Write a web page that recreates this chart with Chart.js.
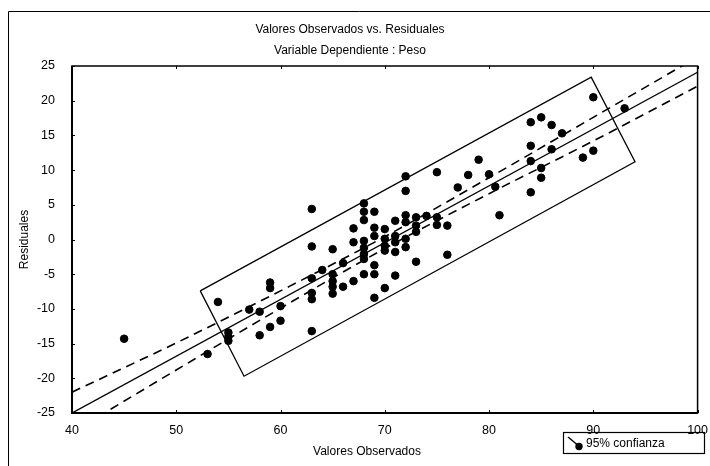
<!DOCTYPE html>
<html>
<head>
<meta charset="UTF-8" />
<title>Valores Observados vs. Residuales</title>
<script src="https://cdn.jsdelivr.net/npm/chart.js"></script>
<style>
  body { margin: 0; background: #fff; }
  canvas { display: block; }
</style>
</head>
<body>
<canvas id="myChart" width="710" height="466"></canvas>
<script>
// observados (x) y residuales (y)
const obsX = [45, 53, 54, 55, 55, 55, 57, 58, 58, 59, 59, 59, 60, 60,
  63, 63, 63, 63, 63, 63, 64, 65, 65, 65, 65, 65, 66, 66, 67, 67, 67,
  68, 68, 68, 68, 68, 68, 68, 68, 69, 69, 69, 69, 69, 69,
  70, 70, 70, 70, 70, 71, 71, 71, 71, 71, 72, 72, 72, 72, 72, 72,
  73, 73, 73, 73, 74, 75, 75, 75, 76, 76, 77, 78, 79, 80, 80.6, 81,
  84, 84, 84, 84, 85, 85, 85, 86, 86, 87, 89, 90, 90, 93];
const resY = [-14.3, -16.5, -9.0, -13.4, -14.0, -14.6, -10.1, -10.4, -13.8, -6.2, -7.0, -12.6, -9.6, -11.7,
  4.4, -1.0, -5.6, -7.7, -8.6, -13.2, -4.4, -1.4, -5.0, -6.0, -6.8, -7.8, -3.4, -6.8, 1.6, -0.4, -6.0,
  5.2, 4.0, 2.8, -0.2, -1.2, -2.1, -2.8, -5.0, 4.0, 1.7, 0.5, -3.7, -5.0, -8.4,
  1.5, 0.1, -0.9, -1.6, -7.0, 2.7, 0.5, -0.4, -1.8, -5.2, 9.1, 7.0, 3.5, 2.5, 0.1, -1.1,
  3.2, 2.0, 1.1, -3.2, 3.4, 9.7, 3.2, 2.1, 2.0, -2.2, 7.5, 9.3, 11.5, 9.4, 7.6, 3.5,
  16.9, 13.5, 11.3, 6.8, 17.6, 10.3, 8.9, 16.5, 13.0, 15.3, 11.8, 20.5, 12.8, 18.9];

// recta de regresion
const fitX = [40, 100];
const fitY = [-25, 24.1];

// banda de confianza 95%
const bandX = [40, 50, 60, 70, 80, 90, 100];
const bandUpper = [-22.0, -14.9, -7.4, 0.4, 8.9, 17.6, 26.3];
const bandLower = [-27.8, -18.8, -9.9, -1.3, 6.6, 14.2, 22.1];

// rectangulo
const boxX = [52.3, 89.8, 94.0, 56.5, 52.3];
const boxY = [-7.4, 23.4, 11.2, -19.7, -7.4];

const toXY = (xs, ys) => xs.map((x, i) => ({ x: x, y: ys[i] }));

Chart.defaults.font.family = "'Liberation Sans', Arial, sans-serif";
Chart.defaults.font.size = 12;
Chart.defaults.color = '#000';

// marco, marcas de ejes, leyenda y titulo del eje x
const extras = {
  id: 'extras',
  afterDraw(chart) {
    const ctx = chart.ctx;
    const a = chart.chartArea;
    const sx = chart.scales.x, sy = chart.scales.y;
    ctx.save();
    ctx.strokeStyle = '#000';
    ctx.lineWidth = 1.5;
    ctx.strokeRect(a.left, a.top, a.right - a.left, a.bottom - a.top);
    ctx.lineWidth = 2;
    ctx.beginPath();
    ctx.moveTo(a.left, a.top);
    ctx.lineTo(a.left, a.bottom);
    ctx.lineTo(a.right, a.bottom);
    ctx.stroke();

    // marcas hacia dentro
    ctx.lineWidth = 1;
    ctx.beginPath();
    sy.ticks.forEach(t => {
      const py = Math.round(sy.getPixelForValue(t.value)) + 0.5;
      ctx.moveTo(a.left, py); ctx.lineTo(a.left + 3, py);
    });
    sx.ticks.forEach(t => {
      const px = Math.round(sx.getPixelForValue(t.value)) + 0.5;
      ctx.moveTo(px, a.bottom); ctx.lineTo(px, a.bottom - 3);
      ctx.moveTo(px, a.top); ctx.lineTo(px, a.top + 3);
    });
    ctx.stroke();

    ctx.beginPath();
    ctx.moveTo(8.5, 466);
    ctx.lineTo(8.5, 11.5);
    ctx.lineTo(710, 11.5);
    ctx.stroke();

    ctx.fillStyle = '#000';
    ctx.font = "12px 'Liberation Sans', Arial, sans-serif";
    ctx.textAlign = 'center';
    ctx.textBaseline = 'middle';
    ctx.fillText('Valores Observados', 367, 452);

    // leyenda
    ctx.lineWidth = 1.2;
    ctx.strokeRect(563.5, 432.5, 141, 21);
    ctx.lineWidth = 1.5;
    ctx.beginPath();
    ctx.moveTo(568, 437);
    ctx.lineTo(580, 447);
    ctx.stroke();
    ctx.beginPath();
    ctx.arc(579, 446.5, 3.7, 0, Math.PI * 2);
    ctx.fill();
    ctx.textAlign = 'left';
    ctx.fillText('95% confianza', 586, 443.5);
    ctx.restore();
  }
};

const ctx = document.getElementById('myChart').getContext('2d');
new Chart(ctx, {
  type: 'scatter',
  data: {
    datasets: [
      {
        label: '95% confianza',
        data: toXY(obsX, resY),
        backgroundColor: '#000',
        borderColor: '#000',
        pointRadius: 3.8,
        pointHoverRadius: 3.8
      },
      {
        type: 'line',
        data: toXY(fitX, fitY),
        borderColor: '#000',
        borderWidth: 1.4,
        pointRadius: 0,
        fill: false
      },
      {
        type: 'line',
        data: toXY(bandX, bandUpper),
        borderColor: '#000',
        borderWidth: 1.6,
        borderDash: [9, 6],
        cubicInterpolationMode: 'monotone',
        pointRadius: 0,
        fill: false
      },
      {
        type: 'line',
        data: toXY(bandX, bandLower),
        borderColor: '#000',
        borderWidth: 1.6,
        borderDash: [9, 6],
        cubicInterpolationMode: 'monotone',
        pointRadius: 0,
        fill: false
      },
      {
        type: 'line',
        data: toXY(boxX, boxY),
        borderColor: '#000',
        borderWidth: 1.3,
        pointRadius: 0,
        fill: false
      }
    ]
  },
  options: {
    responsive: false,
    animation: false,
    layout: { padding: { left: 0, right: 10, top: 0, bottom: 0 } },
    plugins: {
      legend: { display: false },
      tooltip: { enabled: false },
      title: {
        display: true,
        text: ['Valores Observados vs. Residuales', 'Variable Dependiente : Peso'],
        font: { size: 12, weight: 'normal', lineHeight: 1.75 },
        color: '#000',
        padding: { top: 19, bottom: 5 }
      }
    },
    scales: {
      x: {
        type: 'linear',
        min: 40,
        max: 100,
        ticks: { stepSize: 10, padding: 2, color: '#000', font: { size: 12.5 } },
        grid: { display: false },
        border: { display: false },
        afterFit: s => { s.height = 53; }
      },
      y: {
        type: 'linear',
        min: -25,
        max: 25,
        ticks: { stepSize: 5, padding: 9, color: '#000', font: { size: 12.5 } },
        grid: { display: false },
        border: { display: false },
        title: {
          display: true,
          text: 'Residuales',
          color: '#000',
          font: { size: 12 },
          padding: { top: 17, bottom: 0 }
        },
        afterFit: s => { s.width = 72; }
      }
    }
  },
  plugins: [extras]
});
</script>
</body>
</html>
